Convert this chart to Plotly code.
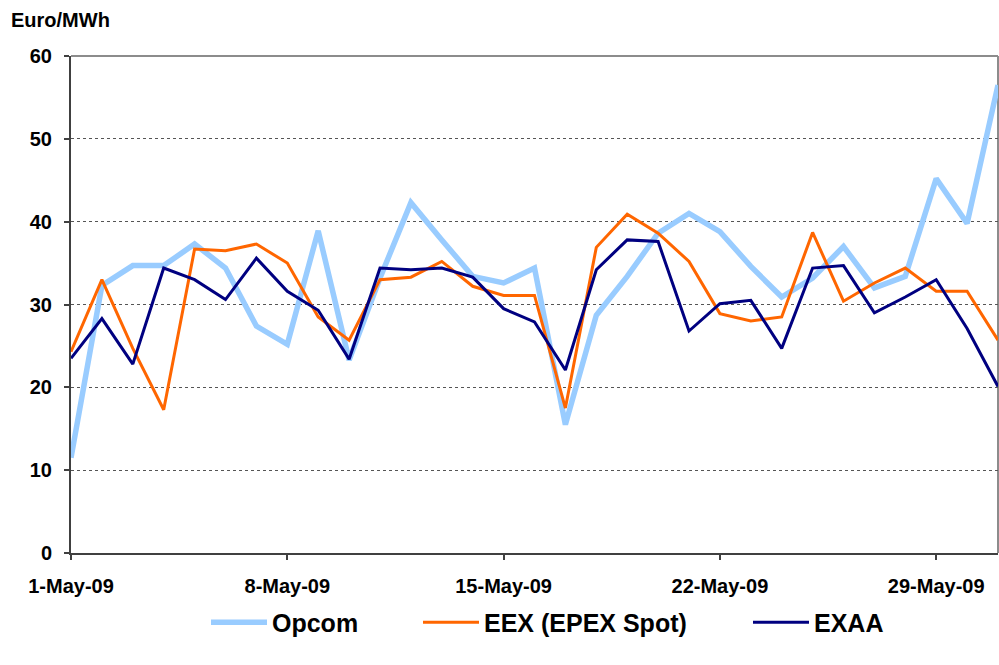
import pandas as pd
import plotly.graph_objects as go

# Daily prices, May 2009 (Euro/MWh)
dates = pd.date_range("2009-05-01", "2009-05-31", freq="D")

opcom = [11.5, 32.3, 34.7, 34.7, 37.3, 34.4, 27.4, 25.2, 38.9, 23.3,
         33.2, 42.3, 37.8, 33.4, 32.6, 34.4, 15.5, 28.7, 33.4, 38.6,
         41.0, 38.8, 34.6, 30.9, 33.2, 37.0, 32.0, 33.4, 45.2, 39.8,
         56.5]
eex = [24.3, 33.0, 24.7, 17.3, 36.7, 36.5, 37.3, 35.0, 28.5, 25.7,
       33.0, 33.3, 35.2, 32.2, 31.1, 31.1, 17.5, 36.9, 40.9, 38.6,
       35.2, 28.9, 28.0, 28.5, 38.7, 30.4, 32.6, 34.4, 31.6, 31.6,
       25.7]
exaa = [23.5, 28.3, 22.8, 34.4, 33.0, 30.6, 35.6, 31.6, 29.3, 23.4,
        34.4, 34.2, 34.4, 33.3, 29.5, 27.9, 22.1, 34.2, 37.8, 37.6,
        26.8, 30.1, 30.5, 24.7, 34.4, 34.7, 29.0, 30.9, 33.0, 27.1,
        20.1]

tick_dates = pd.to_datetime(["2009-05-01", "2009-05-08", "2009-05-15",
                             "2009-05-22", "2009-05-29"])
tick_labels = ["1-May-09", "8-May-09", "15-May-09", "22-May-09", "29-May-09"]
y_ticks = [0, 10, 20, 30, 40, 50, 60]

FONT = "Arial, Liberation Sans, sans-serif"
TICK_FONT = dict(family=FONT, size=20, color="black", weight="bold")
LEGEND_FONT = dict(family=FONT, size=25, color="black", weight="bold")

# plot area in pixels: left 71, width 927, top 56, height 497
PLOT_L, PLOT_W = 71, 927


def legend_box(px_left):
    return dict(orientation="h", x=(px_left - PLOT_L) / PLOT_W, xanchor="left",
                y=-0.14, yanchor="middle", font=LEGEND_FONT, itemwidth=56,
                bgcolor="rgba(0,0,0,0)")


fig = go.Figure()
fig.add_trace(go.Scatter(x=dates, y=opcom, name="Opcom", mode="lines",
                         line=dict(color="#99CCFF", width=5.5),
                         legend="legend"))
fig.add_trace(go.Scatter(x=dates, y=eex, name="EEX (EPEX Spot)", mode="lines",
                         line=dict(color="#FF6600", width=3),
                         legend="legend2"))
fig.add_trace(go.Scatter(x=dates, y=exaa, name="EXAA", mode="lines",
                         line=dict(color="#000080", width=3),
                         legend="legend3"))

fig.update_layout(
    width=999, height=665,
    margin=dict(l=71, r=1, t=56, b=112),
    paper_bgcolor="white", plot_bgcolor="white",
    font=dict(family=FONT, size=20, color="black", weight="bold"),
    showlegend=True,
    legend=legend_box(206),
    legend2=legend_box(418),
    legend3=legend_box(748),
    xaxis=dict(
        type="date",
        range=[dates[0], dates[-1]],
        tickvals=tick_dates, ticktext=tick_labels,
        showgrid=False, zeroline=False,
        showline=True, linecolor="#404040", linewidth=2,
        ticks="outside", ticklen=5, tickcolor="#404040", tickwidth=1.5,
        ticklabelstandoff=9,
        tickfont=TICK_FONT,
    ),
    yaxis=dict(
        range=[0, 60], tickvals=y_ticks,
        showgrid=True, gridcolor="#555555", griddash="dot", gridwidth=1,
        zeroline=False,
        showline=True, linecolor="#404040", linewidth=2,
        ticks="outside", ticklen=5, tickcolor="#404040", tickwidth=1.5,
        ticklabelstandoff=8,
        tickfont=TICK_FONT,
    ),
    shapes=[
        dict(type="line", xref="paper", yref="paper", x0=0, x1=1, y0=1, y1=1,
             line=dict(color="#8c8c8c", width=2), layer="above"),
        dict(type="line", xref="paper", yref="paper", x0=1, x1=1, y0=0, y1=1,
             line=dict(color="#8c8c8c", width=2), layer="below"),
    ],
    annotations=[
        dict(text="Euro/MWh", xref="paper", yref="paper",
             x=(9 - 71) / 927, y=1 + (56 - 20) / 497,
             xanchor="left", yanchor="middle", showarrow=False,
             font=dict(family=FONT, size=20, color="black", weight="bold")),
    ],
)

fig.write_html("out.html")
